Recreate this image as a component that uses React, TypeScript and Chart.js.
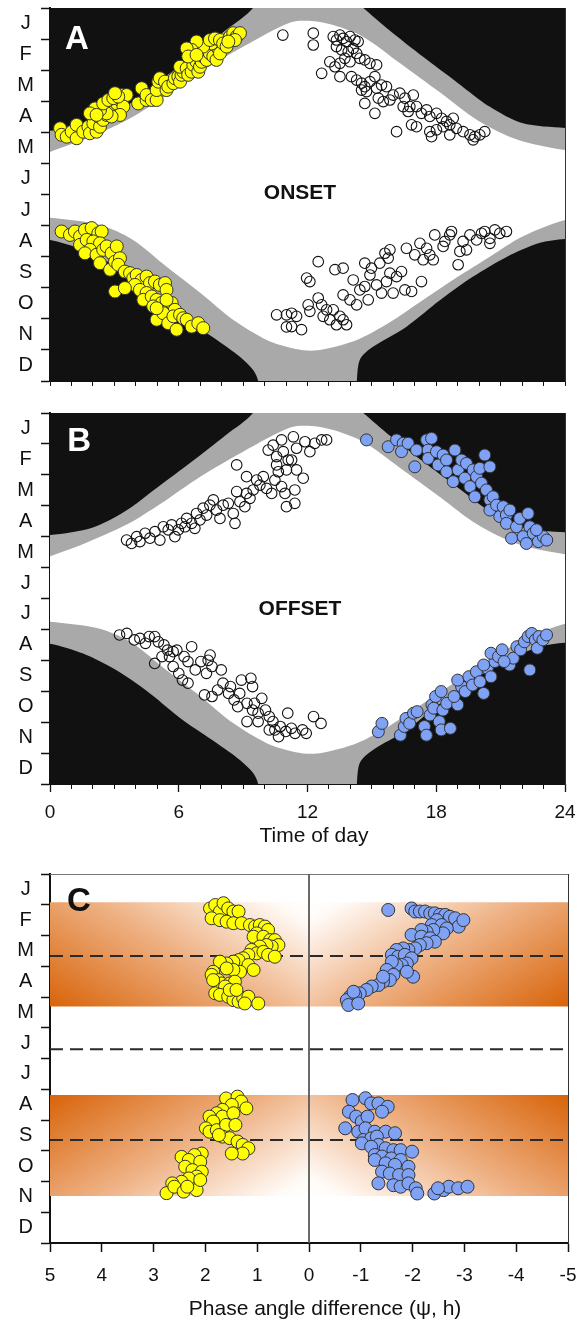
import React, { useEffect, useRef } from 'react';
import { Chart, registerables } from 'chart.js';

Chart.register(...registerables);

type Pt = [number, number];

const FONT = "'Liberation Sans', Arial, Helvetica, sans-serif";

// ---------- axis labels ----------
const MONTH_LABELS = ['J', 'F', 'M', 'A', 'M', 'J', 'J', 'A', 'S', 'O', 'N', 'D'];
const MONTH_TICKS = [0, 0.5, 1, 1.5, 2, 2.5, 3, 3.5, 4, 4.5, 5, 5.5, 6, 6.5, 7, 7.5, 8, 8.5, 9, 9.5, 10, 10.5, 11, 11.5, 12];
const HOUR_TICKS = [0, 1, 2, 3, 4, 5, 6, 7, 8, 9, 10, 11, 12, 13, 14, 15, 16, 17, 18, 19, 20, 21, 22, 23, 24];
const HOUR_MAJOR_TICKS = [0, 6, 12, 18, 24];
const HOUR_LABELS = ['0', '6', '12', '18', '24'];
const PHASE_TICKS = [5, 4, 3, 2, 1, 0, -1, -2, -3, -4, -5];
const PHASE_LABELS = ['5', '4', '3', '2', '1', '0', '-1', '-2', '-3', '-4', '-5'];

// ---------- light regime (time of day, month) ----------
const dawnSpring: Pt[] = [[9.46, 0], [8.2, 0.71], [6.6, 1.58], [5.0, 2.41], [3.5, 3.18], [2.0, 3.7], [0, 3.95]];
const duskSpring: Pt[] = [[14.6, 0], [15.8, 0.71], [17.4, 1.58], [19.0, 2.41], [20.5, 3.18], [22.0, 3.7], [24, 3.86]];
const dawnAutumn: Pt[] = [[0, 7.46], [1.54, 7.78], [3.12, 8.33], [4.66, 9.07], [6.2, 9.94], [7.78, 10.68], [8.85, 11.22], [9.46, 11.64], [9.7, 12.0]];
const duskAutumn: Pt[] = [[24, 7.43], [22.8, 7.56], [21.3, 8.0], [19.7, 8.65], [18.2, 9.39], [16.6, 10.26], [15.05, 10.9], [14.45, 11.3], [14.3, 12.0]];
const sunriseSpring: Pt[] = [[0, 4.63], [1.5, 4.25], [3.6, 3.6], [5.1, 2.96], [7.0, 2.06], [9.0, 1.25], [11.2, 0.47]];
const sunsetSpring: Pt[] = [[12.2, 0.42], [13.2, 0.55], [14.6, 0.93], [16.3, 1.77], [18.2, 2.73], [19.9, 3.6], [21.8, 4.24], [24, 4.57]];
const sunsetAutumn: Pt[] = [[24, 6.82], [22.0, 7.36], [20.5, 8.0], [19.0, 8.65], [17.4, 9.39], [15.8, 10.13], [14.3, 10.68], [12.7, 10.99]];
const sunriseAutumn: Pt[] = [[0, 6.75], [2.33, 6.98], [3.87, 7.46], [5.45, 8.33], [7.0, 9.16], [8.53, 10.03], [10.1, 10.68], [11.2, 10.93], [12.0, 11.02]];

// ---------- panel A: onset ----------
const onsetYellowSpring: Pt[] = [
  [0.47, 3.87], [0.54, 4.08], [0.78, 4.14], [1.01, 3.98], [1.24, 4.19], [1.24, 3.76], [1.55, 3.98], [1.79, 3.82], [1.86, 4.03], [2.17, 3.98],
  [2.02, 3.71], [2.33, 3.82], [2.25, 3.49], [2.48, 3.6], [2.64, 3.44], [2.8, 3.23], [3.03, 3.28], [3.11, 3.07], [3.26, 2.96], [3.34, 2.8],
  [3.57, 2.8], [3.42, 3.17], [3.26, 3.44], [2.87, 3.49], [2.64, 3.39], [2.33, 3.28], [2.1, 3.23], [1.86, 3.39], [2.17, 3.44], [2.48, 3.07],
  [2.72, 2.96], [2.95, 2.9], [3.18, 2.85], [3.03, 2.74],
  [4.11, 3.07], [4.27, 2.58], [4.5, 2.96], [4.5, 2.8], [4.74, 2.96], [4.97, 2.96], [4.97, 2.64], [5.05, 2.37], [5.12, 2.26], [5.36, 2.37],
  [5.43, 2.64], [5.51, 2.53], [5.75, 2.42], [5.82, 2.26], [5.98, 2.21], [6.06, 2.37], [6.13, 2.15], [6.21, 2.05], [6.06, 1.89], [6.37, 1.94],
  [6.44, 2.15], [6.6, 2.05], [6.68, 1.83], [6.83, 1.73], [6.91, 2.05], [6.99, 1.89], [7.07, 1.73], [7.14, 1.56], [7.3, 1.67], [7.3, 1.35],
  [7.45, 1.46], [7.61, 1.56], [7.76, 1.67], [7.84, 1.3], [7.92, 1.46], [7.53, 1.14], [7.14, 1.24], [6.83, 1.08], [6.6, 1.35], [6.37, 1.3],
  [6.44, 1.56], [6.83, 1.51], [7.45, 1.03], [7.69, 0.98], [7.92, 1.03], [8.07, 1.14], [8.23, 1.24], [8.39, 0.92], [8.54, 0.81], [8.7, 0.92],
  [8.85, 0.81], [8.62, 1.03], [8.31, 1.08],
];
const onsetOpenSpring: Pt[] = [
  [10.85, 0.87], [12.27, 0.81], [12.27, 1.19], [13.2, 0.92], [13.35, 1.03], [13.51, 0.87], [13.66, 0.98], [13.82, 1.08], [13.98, 0.92], [14.21, 1.03],
  [14.36, 1.08], [13.35, 1.24], [13.59, 1.35], [13.9, 1.4], [14.13, 1.3], [14.29, 1.46], [13.04, 1.73], [13.28, 1.89], [13.51, 1.78], [13.74, 1.62],
  [13.98, 1.73], [14.44, 1.62], [14.67, 1.67], [14.91, 1.78], [15.22, 1.83], [12.66, 2.1], [13.51, 2.21], [14.05, 2.21], [14.29, 2.32], [14.52, 2.42],
  [14.67, 2.53], [14.91, 2.37], [15.14, 2.21], [14.52, 2.64], [14.75, 2.69], [15.22, 2.58], [15.45, 2.48], [15.68, 2.53], [14.67, 3.07], [15.14, 3.39],
  [15.3, 2.9], [15.53, 3.01], [15.84, 2.96], [15.99, 2.8], [16.3, 2.74], [16.54, 2.9], [16.77, 3.17], [16.93, 2.8], [16.46, 3.17], [16.69, 3.33],
  [17.08, 3.17], [17.31, 3.39], [17.55, 3.28], [17.7, 3.49], [18.01, 3.39], [18.25, 3.55], [18.48, 3.65], [18.79, 3.55], [18.63, 3.76], [18.94, 3.87],
  [19.25, 3.98], [19.57, 4.08], [19.8, 4.14], [20.03, 4.08], [20.26, 3.98], [19.72, 4.24], [16.15, 3.98], [16.85, 3.76], [17.08, 3.82], [17.7, 3.98],
  [17.78, 4.14], [18.01, 3.92], [18.32, 3.82], [18.63, 4.08],
];
const onsetYellowAutumn: Pt[] = [
  [0.54, 7.19], [0.93, 7.3], [1.16, 7.19], [1.4, 7.35], [1.63, 7.14], [1.94, 7.08], [2.25, 7.25], [2.41, 7.19], [1.4, 7.62], [1.71, 7.46],
  [2.02, 7.51], [2.33, 7.57], [1.86, 7.78], [1.63, 7.89], [2.17, 7.94], [2.48, 7.78], [2.64, 7.67], [2.87, 7.89], [3.11, 7.67], [2.33, 8.21],
  [2.8, 8.42], [3.03, 8.16], [3.26, 8.05], [3.18, 8.26], [3.49, 8.48], [3.73, 8.53], [3.88, 8.69], [4.04, 8.59], [4.27, 8.75], [4.5, 8.64],
  [4.66, 8.85], [4.89, 8.8], [5.12, 8.91], [5.36, 8.85], [5.43, 9.07], [3.96, 8.91], [4.19, 9.07], [4.5, 9.17], [4.35, 9.39], [4.74, 9.28],
  [4.97, 9.39], [5.2, 9.49], [5.43, 9.6], [5.67, 9.49], [5.82, 9.71], [3.03, 9.12], [3.49, 9.01], [4.81, 9.6], [4.97, 10.03], [5.28, 9.82],
  [5.51, 10.14], [5.75, 9.92], [6.06, 9.87], [6.21, 9.98], [6.37, 10.03], [6.6, 10.25], [6.91, 10.14], [7.14, 10.3], [5.9, 10.35], [4.97, 9.66],
  [5.43, 9.39],
];
const onsetOpenAutumn: Pt[] = [
  [10.56, 9.87], [11.02, 9.87], [11.02, 10.26], [11.26, 9.82], [11.26, 10.25], [11.72, 10.35], [11.49, 9.92], [12.03, 9.55], [12.11, 9.76], [12.5, 9.33],
  [12.66, 9.55], [12.89, 9.71], [12.73, 9.92], [13.04, 10.03], [13.2, 9.71], [13.35, 10.19], [13.51, 9.92], [13.66, 10.03], [13.82, 10.19], [12.5, 8.16],
  [11.96, 8.69], [12.11, 8.8], [13.28, 8.42], [13.66, 8.37], [13.66, 9.23], [13.98, 9.39], [14.13, 8.75], [14.29, 9.55], [14.44, 9.07], [14.67, 8.96],
  [14.67, 8.21], [14.83, 9.39], [14.91, 8.59], [14.98, 8.37], [15.22, 8.91], [15.37, 8.21], [15.45, 9.17], [15.61, 7.89], [15.68, 8.8], [15.76, 8.05],
  [15.84, 8.53], [15.84, 7.78], [15.99, 9.17], [16.15, 8.64], [16.38, 8.48], [16.54, 9.07], [16.61, 7.73], [16.85, 9.12], [17.0, 7.94], [17.24, 7.57],
  [17.31, 8.8], [17.39, 8.1], [17.55, 7.73], [17.7, 7.94], [17.86, 8.1], [17.93, 7.3], [18.32, 7.67], [18.4, 7.51], [18.63, 7.3], [18.71, 7.19],
  [19.02, 8.26], [19.1, 7.83], [19.25, 7.51], [19.41, 7.78], [19.57, 7.3], [19.88, 7.46], [20.11, 7.25], [20.26, 7.19], [20.5, 7.57], [20.5, 7.41],
  [20.73, 7.14], [20.96, 7.25], [21.27, 7.19],
];

// ---------- panel B: offset ----------
const offsetOpenSpring: Pt[] = [
  [3.57, 4.11], [3.8, 4.22], [4.04, 4.0], [4.19, 4.16], [4.43, 3.89], [4.66, 4.05], [4.89, 3.84], [5.12, 4.11], [5.28, 3.68], [5.51, 3.78],
  [5.67, 3.62], [5.82, 4.0], [5.98, 3.78], [6.13, 3.57], [6.37, 3.41], [6.29, 3.68], [6.6, 3.57], [6.75, 3.73], [6.99, 3.46], [6.83, 3.25],
  [7.14, 3.08], [7.3, 3.3], [7.45, 2.98], [7.61, 2.81], [7.76, 3.14], [7.92, 3.41], [8.07, 2.98], [8.31, 2.92], [8.54, 3.25], [8.62, 3.57],
  [8.7, 2.54], [8.85, 2.87], [9.08, 3.03], [9.16, 2.6], [9.32, 2.76], [9.47, 2.49], [9.63, 2.17], [9.78, 2.33], [9.94, 2.06], [10.09, 2.44],
  [10.33, 2.6], [10.48, 2.17], [10.64, 1.9], [10.79, 2.38], [10.95, 2.6], [11.02, 3.03], [9.16, 2.06], [8.7, 1.68], [10.17, 1.2], [10.4, 1.04],
  [10.56, 1.41], [10.79, 0.87], [10.87, 1.25], [11.1, 1.52], [11.02, 1.84], [10.56, 1.68], [11.34, 0.77], [11.49, 1.14], [11.88, 0.93], [12.11, 1.25],
  [12.34, 0.98], [12.66, 0.87], [12.89, 0.87], [11.26, 1.52], [11.49, 1.84], [11.8, 2.11], [11.41, 2.49], [11.41, 2.92],
];
const offsetBlueSpring: Pt[] = [
  [14.75, 0.87], [15.76, 1.09], [16.15, 0.87], [16.46, 0.98], [16.38, 1.25], [16.69, 0.98], [17.08, 1.2], [17.0, 1.74], [17.55, 0.87], [17.78, 0.82],
  [17.62, 1.2], [17.62, 1.47], [18.01, 1.25], [18.09, 1.68], [18.32, 1.36], [18.48, 1.52], [18.48, 1.9], [18.79, 2.22], [18.87, 1.2], [19.02, 1.84],
  [19.18, 1.52], [19.33, 2.11], [19.41, 1.63], [19.57, 2.38], [19.72, 1.84], [19.88, 2.06], [19.8, 2.71], [20.03, 1.79], [20.11, 2.27], [20.26, 1.36],
  [20.5, 1.74], [20.34, 2.49], [20.5, 2.81], [20.65, 2.71], [20.5, 3.14], [20.81, 2.98], [20.96, 3.35], [21.12, 3.03], [21.27, 3.3], [21.43, 3.14],
  [21.27, 3.57], [21.51, 4.05], [21.74, 3.68], [21.89, 3.41], [22.05, 4.0], [22.2, 4.22], [22.28, 3.25], [22.36, 3.68], [22.52, 3.89], [22.76, 4.16],
  [22.99, 4.0], [23.15, 4.11], [22.67, 3.78],
];
const offsetOpenAutumn: Pt[] = [
  [3.24, 7.18], [3.58, 7.13], [3.93, 7.34], [4.19, 7.29], [4.45, 7.45], [4.62, 7.23], [4.88, 7.23], [5.05, 7.4], [5.31, 7.5], [5.48, 7.67],
  [5.74, 7.72], [4.88, 8.1], [5.22, 7.88], [5.57, 7.88], [5.74, 8.2], [6.0, 8.42], [6.17, 8.64], [5.91, 7.67], [6.25, 7.88], [6.43, 8.04],
  [6.6, 7.56], [6.77, 8.31], [7.03, 8.04], [6.43, 8.74], [7.29, 8.42], [7.46, 7.83], [7.37, 8.0], [7.55, 8.2], [7.2, 9.12], [7.55, 9.17],
  [7.81, 8.96], [7.98, 8.31], [8.06, 8.74], [8.32, 9.07], [8.41, 8.85], [8.58, 9.28], [8.75, 9.5], [8.84, 9.07], [8.92, 8.64], [9.36, 8.58],
  [9.44, 8.85], [9.18, 9.39], [9.53, 9.39], [9.87, 9.23], [9.44, 9.61], [9.7, 9.71], [10.04, 9.61], [10.22, 9.82], [10.39, 9.98], [9.7, 9.98],
  [10.48, 10.25], [10.73, 10.14], [10.99, 10.3], [11.08, 9.71], [11.25, 10.2], [11.42, 10.36], [11.77, 10.25], [11.94, 10.36], [12.28, 9.82], [12.63, 10.04],
  [10.22, 10.25], [10.65, 10.47], [9.18, 9.98],
];
const offsetBlueAutumn: Pt[] = [
  [15.3, 10.31], [15.47, 10.04], [16.33, 10.42], [16.51, 10.14], [16.59, 9.88], [16.76, 10.04], [16.94, 9.71], [17.11, 9.66], [17.45, 10.14], [17.54, 10.42],
  [17.71, 9.77], [17.8, 9.44], [17.97, 9.17], [17.88, 9.55], [18.14, 9.98], [18.23, 10.25], [18.31, 9.61], [18.49, 9.39], [18.23, 9.01], [18.66, 10.2],
  [19.0, 9.44], [18.83, 9.17], [19.18, 8.85], [19.35, 9.01], [19.0, 8.64], [19.52, 8.53], [19.69, 8.8], [19.87, 8.37], [20.04, 8.69], [20.21, 9.07],
  [20.38, 8.26], [20.55, 8.53], [20.73, 8.04], [20.55, 7.77], [20.9, 7.88], [21.07, 7.66], [21.42, 8.15], [21.59, 7.93], [21.76, 7.56], [21.93, 7.66],
  [22.11, 7.4], [22.28, 7.23], [22.45, 7.13], [22.62, 7.34], [22.71, 7.61], [22.79, 7.23], [22.97, 7.34], [23.14, 7.18], [22.36, 8.31], [21.16, 8.04],
  [20.21, 8.15],
];

// ---------- panel C: phase angle difference ----------
const phaseBandSpring = [0.92, 4.31];
const phaseBandAutumn = [7.19, 10.47];
const phaseRefLines = [2.67, 5.7, 8.65];
const phaseYellowSpring: Pt[] = [
  [1.91, 1.12], [1.81, 1.01], [1.72, 1.22], [1.65, 0.95], [1.56, 1.12], [1.46, 1.22], [1.36, 1.22], [1.88, 1.44], [1.72, 1.5], [1.59, 1.55],
  [1.46, 1.6], [1.3, 1.6], [1.14, 1.66], [1.04, 1.71], [0.95, 1.66], [0.85, 1.71], [0.79, 1.82], [1.01, 1.93], [1.07, 2.04], [0.88, 2.04],
  [0.75, 2.15], [0.66, 2.15], [0.59, 2.31], [0.72, 2.36], [0.82, 2.31], [0.95, 2.36], [1.11, 2.47], [1.01, 2.58], [0.88, 2.53], [0.79, 2.63],
  [0.66, 2.69], [1.17, 2.63], [1.27, 2.74], [1.36, 2.8], [1.46, 2.85], [1.59, 2.91], [1.72, 2.85], [1.17, 2.96], [1.07, 3.12], [1.33, 3.18],
  [1.46, 3.12], [1.59, 3.07], [1.85, 3.18], [1.88, 3.28], [1.75, 3.45], [1.69, 3.56], [1.53, 3.56], [1.43, 3.5], [1.62, 3.66], [1.81, 3.88],
  [1.72, 3.93], [1.56, 3.99], [1.46, 4.1], [1.36, 4.15], [1.27, 4.04], [1.17, 3.99], [1.24, 4.21], [0.98, 4.21], [1.53, 3.77], [1.4, 3.77],
  [1.85, 3.45],
];
const phaseBlueSpring: Pt[] = [
  [-1.53, 1.17], [-1.98, 1.12], [-2.05, 1.22], [-2.14, 1.22], [-2.24, 1.22], [-2.34, 1.28], [-2.43, 1.28], [-2.53, 1.33], [-2.63, 1.33], [-2.72, 1.39],
  [-2.82, 1.44], [-2.89, 1.71], [-2.98, 1.5], [-2.47, 1.5], [-2.37, 1.66], [-2.56, 1.66], [-2.66, 1.77], [-2.59, 1.93], [-2.4, 1.82], [-2.27, 1.88],
  [-2.17, 1.82], [-1.98, 1.98], [-2.17, 2.04], [-2.34, 2.09], [-2.43, 2.2], [-2.27, 2.25], [-2.14, 2.31], [-2.05, 2.42], [-1.92, 2.47], [-1.82, 2.42],
  [-1.69, 2.47], [-1.6, 2.63], [-1.72, 2.69], [-1.85, 2.63], [-1.98, 2.74], [-1.89, 2.91], [-1.79, 2.96], [-1.69, 2.96], [-1.6, 2.85], [-1.5, 3.12],
  [-2.01, 3.34], [-1.89, 3.18], [-1.63, 3.28], [-1.56, 3.45], [-1.43, 3.5], [-1.34, 3.61], [-1.21, 3.66], [-1.11, 3.77], [-0.98, 3.88], [-0.89, 3.93],
  [-0.79, 3.99], [-0.73, 4.1], [-0.76, 4.26], [-0.95, 4.21], [-0.86, 3.83], [-1.43, 3.34],
];
const phaseYellowAutumn: Pt[] = [
  [1.6, 7.3], [1.38, 7.24], [1.31, 7.4], [1.21, 7.62], [1.49, 7.51], [1.67, 7.67], [1.78, 7.78], [1.92, 7.89], [1.67, 7.89], [1.46, 7.78],
  [1.85, 8.05], [1.99, 8.27], [1.92, 8.38], [1.78, 8.33], [1.6, 8.16], [1.42, 8.16], [1.67, 8.54], [1.53, 8.59], [1.38, 8.7], [1.28, 8.81],
  [1.17, 8.92], [1.28, 9.09], [1.49, 9.09], [1.74, 8.49], [2.07, 9.09], [2.21, 9.14], [2.46, 9.2], [2.32, 9.3], [2.1, 9.36], [2.39, 9.52],
  [2.25, 9.63], [2.07, 9.68], [2.17, 9.84], [2.32, 9.9], [2.46, 10.01], [2.64, 10.06], [2.75, 10.38], [2.6, 10.17], [2.42, 10.33], [2.17, 10.28],
  [2.35, 10.17], [2.1, 9.95],
];
const phaseBlueAutumn: Pt[] = [
  [-0.84, 7.35], [-1.09, 7.29], [-1.2, 7.46], [-1.34, 7.46], [-1.52, 7.57], [-1.41, 7.73], [-0.77, 7.73], [-0.91, 7.89], [-1.02, 8.05], [-1.13, 7.89],
  [-0.7, 8.27], [-0.95, 8.38], [-1.09, 8.27], [-1.27, 8.38], [-1.48, 8.38], [-1.66, 8.43], [-1.05, 8.65], [-1.2, 8.6], [-1.31, 8.54], [-1.34, 8.81],
  [-1.02, 8.76], [-1.2, 8.87], [-1.48, 8.92], [-1.63, 8.98], [-1.77, 8.98], [-1.99, 9.03], [-1.27, 9.14], [-1.41, 9.19], [-1.59, 9.25], [-1.77, 9.3],
  [-1.27, 9.3], [-1.48, 9.41], [-1.66, 9.46], [-1.92, 9.52], [-1.41, 9.68], [-1.56, 9.74], [-1.74, 9.79], [-1.92, 9.79], [-1.34, 10.06], [-1.63, 10.12],
  [-1.77, 10.17], [-1.92, 10.06], [-2.06, 10.22], [-2.09, 10.39], [-2.42, 10.39], [-2.6, 10.28], [-2.7, 10.17], [-2.88, 10.22], [-3.06, 10.17], [-2.49, 10.22],
];

// ---------- helpers ----------
const toXY = (a: Pt[]) => a.map(([x, y]) => ({ x, y }));
const rev = (a: Pt[]) => [...a].reverse();
const last = (a: Pt[]) => a[a.length - 1];

const NIGHT = '#111111';
const TWILIGHT = '#a9a9a9';
const YELLOW = '#ffff00';
const BLUE = '#7fa2f5';

const twilightPolygon: Pt[] = [
  ...duskSpring,
  [25, last(duskSpring)[1]], [25, duskAutumn[0][1]],
  ...duskAutumn,
  [last(duskAutumn)[0], 12.4], [last(dawnAutumn)[0], 12.4],
  ...rev(dawnAutumn),
  [-1, dawnAutumn[0][1]], [-1, last(dawnSpring)[1]],
  ...rev(dawnSpring),
  [dawnSpring[0][0], -0.4], [duskSpring[0][0], -0.4],
];
const dayPolygon: Pt[] = [
  ...sunriseSpring,
  ...sunsetSpring,
  [25, last(sunsetSpring)[1]], [25, sunsetAutumn[0][1]],
  ...sunsetAutumn,
  ...rev(sunriseAutumn),
  [-1, sunriseAutumn[0][1]], [-1, sunriseSpring[0][1]],
];
const nightPolygon: Pt[] = [[-1, -1], [25, -1], [25, 13], [-1, 13]];

function polygonDataset(points: Pt[], color: any, order: number, tension = 0.3) {
  return {
    data: toXY(points),
    showLine: true,
    fill: 'shape',
    backgroundColor: color,
    borderColor: 'rgba(0,0,0,0)',
    borderWidth: 0,
    pointRadius: 0,
    pointHoverRadius: 0,
    pointHitRadius: 0,
    pointBackgroundColor: 'rgba(0,0,0,0)',
    pointBorderColor: 'rgba(0,0,0,0)',
    tension,
    order,
  };
}

function scatterDataset(points: Pt[], fill: string, stroke: string, radius: number, order: number, bw = 1) {
  return {
    data: toXY(points),
    showLine: false,
    pointRadius: radius,
    pointHoverRadius: radius,
    pointBackgroundColor: fill,
    pointBorderColor: stroke,
    pointBorderWidth: bw,
    backgroundColor: fill,
    borderColor: stroke,
    order,
  };
}

function lineDataset(points: Pt[], color: string, width: number, dash: number[], order: number) {
  return {
    data: toXY(points),
    showLine: true,
    fill: false,
    borderColor: color,
    borderWidth: width,
    borderDash: dash,
    pointRadius: 0,
    pointHoverRadius: 0,
    tension: 0,
    order,
  };
}

function monthAxis() {
  return {
    type: 'linear',
    position: 'left',
    min: 0,
    max: 12,
    reverse: true,
    afterBuildTicks: (s: any) => { s.ticks = MONTH_TICKS.map((value) => ({ value })); },
    ticks: {
      autoSkip: false,
      padding: 7,
      crossAlign: 'center',
      color: '#111',
      font: { family: FONT, size: 20 },
      callback: (v: number) => {
        const i = v - 0.5;
        return Number.isInteger(i) ? MONTH_LABELS[i] : '';
      },
    },
    grid: {
      drawOnChartArea: false,
      drawTicks: true,
      tickLength: 9,
      tickWidth: 1.5,
      tickColor: (c: any) => (c.tick && Number.isInteger(c.tick.value) ? '#111' : 'rgba(0,0,0,0)'),
    },
    border: { display: true, color: '#111', width: 2 },
    afterFit: (s: any) => { s.width = 50; s.paddingTop = 0; s.paddingBottom = 0; },
  };
}

function frameAxes(xmin: number, xmax: number, reverseX: boolean) {
  return {
    x2: {
      type: 'linear', position: 'top', min: xmin, max: xmax, reverse: reverseX,
      ticks: { display: false }, grid: { display: false },
      border: { display: true, color: '#777', width: 1 },
      afterFit: (s: any) => { s.height = 0; s.paddingLeft = 0; s.paddingRight = 0; },
    },
    y2: {
      type: 'linear', position: 'right', min: 0, max: 12, reverse: true,
      ticks: { display: false }, grid: { display: false },
      border: { display: true, color: '#333', width: 1 },
      afterFit: (s: any) => { s.width = 0; s.paddingTop = 0; s.paddingBottom = 0; },
    },
  };
}

// panel letters / inner labels, placed in data coordinates
const textPlugin = {
  id: 'panelText',
  afterDatasetsDraw(chart: any, _args: any, opts: any) {
    const items = (opts && opts.items) || [];
    const { ctx } = chart;
    const xs = chart.scales.x;
    const ys = chart.scales.y;
    ctx.save();
    for (const it of items) {
      ctx.font = `bold ${it.size}px ${FONT}`;
      ctx.fillStyle = it.color;
      ctx.textAlign = it.align;
      ctx.textBaseline = 'middle';
      ctx.fillText(it.text, xs.getPixelForValue(it.x), ys.getPixelForValue(it.y));
    }
    ctx.restore();
  },
};

// x axis title, centred on a data value below the plot
const axisTitlePlugin = {
  id: 'axisTitle',
  afterDraw(chart: any, _args: any, opts: any) {
    if (!opts || !opts.text) return;
    const { ctx, chartArea } = chart;
    const xs = chart.scales.x;
    ctx.save();
    ctx.font = `${opts.size}px ${FONT}`;
    ctx.fillStyle = '#111';
    ctx.textAlign = 'center';
    ctx.textBaseline = 'middle';
    ctx.fillText(opts.text, xs.getPixelForValue(opts.x), chartArea.bottom + opts.dy);
    ctx.restore();
  },
};

function lightChartConfig(points: any[], texts: any[], showXLabels: boolean, padding: any, xHeight: number) {
  const hourAxis = {
    type: 'linear',
    position: 'bottom',
    weight: 0,
    min: 0,
    max: 24,
    afterBuildTicks: (s: any) => { s.ticks = HOUR_TICKS.map((value) => ({ value })); },
    ticks: { display: false },
    grid: { drawOnChartArea: false, drawTicks: true, tickLength: 5, tickWidth: 1, tickColor: '#111' },
    border: { display: true, color: '#111', width: 2 },
    afterFit: (s: any) => { s.height = showXLabels ? 0 : xHeight; s.paddingLeft = 0; s.paddingRight = 0; },
  };
  const majorHourAxis = {
    type: 'linear',
    position: 'bottom',
    weight: 1,
    min: 0,
    max: 24,
    afterBuildTicks: (s: any) => { s.ticks = HOUR_MAJOR_TICKS.map((value) => ({ value })); },
    ticks: {
      autoSkip: false,
      maxRotation: 0,
      padding: 9,
      color: '#111',
      font: { family: FONT, size: 19 },
      callback: (v: number) => HOUR_LABELS[HOUR_MAJOR_TICKS.indexOf(v)] ?? '',
    },
    grid: { drawOnChartArea: false, drawTicks: true, tickLength: 8, tickWidth: 1.3, tickColor: '#111' },
    border: { display: false },
    afterFit: (s: any) => { s.height = xHeight; s.paddingLeft = 0; s.paddingRight = 0; },
  };
  return {
    type: 'scatter',
    data: {
      datasets: [
        polygonDataset(nightPolygon, NIGHT, 12, 0),
        polygonDataset(twilightPolygon, TWILIGHT, 11),
        polygonDataset(dayPolygon, '#ffffff', 10),
        ...points,
      ],
    },
    plugins: [textPlugin, axisTitlePlugin],
    options: {
      responsive: false,
      animation: false,
      devicePixelRatio: 1,
      events: [],
      layout: { padding },
      plugins: {
        legend: { display: false },
        tooltip: { enabled: false },
        panelText: { items: texts },
        axisTitle: showXLabels ? { text: 'Time of day', x: 12.3, dy: 52, size: 21 } : {},
      },
      scales: showXLabels
        ? { x: hourAxis, xMajor: majorHourAxis, y: monthAxis(), ...frameAxes(0, 24, false) }
        : { x: hourAxis, y: monthAxis(), ...frameAxes(0, 24, false) },
    },
  };
}

// orange band: white at the zero line on one edge, darkening linearly towards the far corners
const BAND_EDGE_SHARE = 0.6;
const BAND_DEPTH_SHARE = 0.4;

function bandPattern(chart: any, band: number[], whiteAtTop: boolean) {
  const area = chart.chartArea;
  if (!area) return 'rgba(0,0,0,0)';
  const xs = chart.scales.x;
  const ys = chart.scales.y;
  const cx = xs.getPixelForValue(0);
  const y1 = ys.getPixelForValue(band[0]);
  const y2 = ys.getPixelForValue(band[1]);
  const cy = whiteAtTop ? y1 : y2;
  const sy = whiteAtTop ? 1 : -1;
  const halfW = cx - area.left;
  const bandH = Math.abs(y2 - y1);
  const gx = BAND_EDGE_SHARE / halfW;
  const gy = BAND_DEPTH_SHARE / bandH;
  const n = gx * gx + gy * gy;
  const ox = gx / n;
  const oy = gy / n;
  const off = document.createElement('canvas');
  off.width = chart.width;
  off.height = chart.height;
  const g = off.getContext('2d')!;
  const addStops = (grad: CanvasGradient) => {
    grad.addColorStop(0, '#ffffff');
    grad.addColorStop(0.08, '#fffaf6');
    grad.addColorStop(0.5, '#eeb082');
    grad.addColorStop(1, '#d8640a');
  };
  const gl = g.createLinearGradient(cx, cy, cx - ox, cy + sy * oy);
  addStops(gl);
  g.fillStyle = gl;
  g.fillRect(0, 0, cx, off.height);
  const gr = g.createLinearGradient(cx, cy, cx + ox, cy + sy * oy);
  addStops(gr);
  g.fillStyle = gr;
  g.fillRect(cx, 0, off.width - cx, off.height);
  return chart.ctx.createPattern(off, 'no-repeat');
}

function bandRect(band: number[]): Pt[] {
  const xl = PHASE_TICKS[0];
  const xr = PHASE_TICKS[PHASE_TICKS.length - 1];
  return [[xl, band[0]], [xr, band[0]], [xr, band[1]], [xl, band[1]]];
}

function phaseChartConfig() {
  const xMin = PHASE_TICKS[PHASE_TICKS.length - 1];
  const xMax = PHASE_TICKS[0];
  return {
    type: 'scatter',
    data: {
      datasets: [
        polygonDataset(bandRect(phaseBandSpring), (c: any) => bandPattern(c.chart, phaseBandSpring, true), 12, 0),
        polygonDataset(bandRect(phaseBandAutumn), (c: any) => bandPattern(c.chart, phaseBandAutumn, false), 12, 0),
        ...phaseRefLines.map((m) => lineDataset([[xMax, m], [xMin, m]], '#2a2a2a', 2, [13, 7], 6)),
        lineDataset([[0, 0], [0, 12]], '#555', 1, [], 6),
        scatterDataset(phaseYellowSpring, YELLOW, '#333', 6.5, 1),
        scatterDataset(phaseYellowAutumn, YELLOW, '#333', 6.5, 1),
        scatterDataset(phaseBlueSpring, BLUE, '#333', 6.5, 1),
        scatterDataset(phaseBlueAutumn, BLUE, '#333', 6.5, 1),
      ],
    },
    plugins: [textPlugin, axisTitlePlugin],
    options: {
      responsive: false,
      animation: false,
      devicePixelRatio: 1,
      events: [],
      layout: { padding: { left: 0, right: 13, top: 19, bottom: 3 } },
      plugins: {
        legend: { display: false },
        tooltip: { enabled: false },
        panelText: { items: [{ text: 'C', x: 4.67, y: 0.91, color: '#111', size: 33, align: 'left' }] },
        axisTitle: { text: 'Phase angle difference (\u03c8, h)', x: -0.31, dy: 66, size: 21 },
      },
      scales: {
        x: {
          type: 'linear',
          position: 'bottom',
          min: xMin,
          max: xMax,
          reverse: true,
          afterBuildTicks: (s: any) => { s.ticks = PHASE_TICKS.map((value) => ({ value })); },
          ticks: {
            autoSkip: false,
            maxRotation: 0,
            padding: 12,
            color: '#111',
            font: { family: FONT, size: 19 },
            callback: (v: number) => PHASE_LABELS[PHASE_TICKS.indexOf(v)] ?? '',
          },
          grid: { drawOnChartArea: false, drawTicks: true, tickLength: 9, tickWidth: 1.5, tickColor: '#111' },
          border: { display: true, color: '#111', width: 2 },
          afterFit: (s: any) => { s.height = 77; s.paddingLeft = 0; s.paddingRight = 0; },
        },
        y: monthAxis(),
        ...frameAxes(xMin, xMax, true),
      },
    },
  };
}

function ChartCanvas({ makeConfig, top, height }: { makeConfig: () => any; top: number; height: number }) {
  const ref = useRef<HTMLCanvasElement>(null);
  useEffect(() => {
    const chart = new Chart(ref.current as HTMLCanvasElement, makeConfig());
    return () => chart.destroy();
  }, []);
  return (
    <canvas
      ref={ref}
      width={581}
      height={height}
      style={{ position: 'absolute', left: 0, top, width: 581, height, display: 'block' }}
    />
  );
}

export default function App() {
  const configA = () =>
    lightChartConfig(
      [
        scatterDataset(onsetYellowSpring, YELLOW, '#333', 6.5, 1),
        scatterDataset(onsetYellowAutumn, YELLOW, '#333', 6.5, 1),
        scatterDataset(onsetOpenSpring, 'rgba(0,0,0,0)', '#111', 5.3, 1, 1.1),
        scatterDataset(onsetOpenAutumn, 'rgba(0,0,0,0)', '#111', 5.3, 1, 1.1),
      ],
      [
        { text: 'A', x: 0.7, y: 1.03, color: '#ffffff', size: 33, align: 'left' },
        { text: 'ONSET', x: 11.65, y: 5.95, color: '#111', size: 21, align: 'center' },
      ],
      false,
      { left: 0, right: 16, top: 8, bottom: 4 },
      10
    );
  const configB = () =>
    lightChartConfig(
      [
        scatterDataset(offsetOpenSpring, 'rgba(0,0,0,0)', '#111', 5.3, 1, 1.1),
        scatterDataset(offsetOpenAutumn, 'rgba(0,0,0,0)', '#111', 5.3, 1, 1.1),
        scatterDataset(offsetBlueSpring, BLUE, '#333', 6, 1),
        scatterDataset(offsetBlueAutumn, BLUE, '#333', 6, 1),
      ],
      [
        { text: 'B', x: 0.8, y: 0.94, color: '#ffffff', size: 33, align: 'left' },
        { text: 'OFFSET', x: 11.65, y: 6.34, color: '#111', size: 21, align: 'center' },
      ],
      true,
      { left: 0, right: 16, top: 18, bottom: 7 },
      64
    );
  return (
    <div style={{ position: 'absolute', left: 0, top: 0, width: 581, height: 1323, background: '#ffffff', overflow: 'hidden' }}>
      <ChartCanvas makeConfig={configA} top={0} height={395} />
      <ChartCanvas makeConfig={configB} top={395} height={460} />
      <ChartCanvas makeConfig={phaseChartConfig} top={855} height={468} />
    </div>
  );
}
